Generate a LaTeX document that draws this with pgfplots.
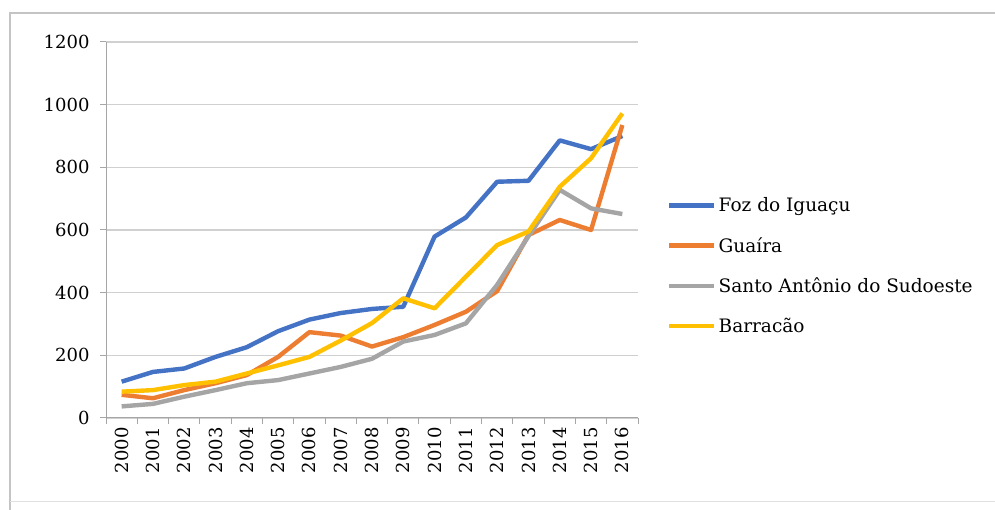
\documentclass[border=0pt]{standalone}
\usepackage{fontspec}
\setmainfont{DejaVu Serif}
\usepackage{pgfplots}
\pgfplotsset{compat=1.18}

\definecolor{cBlue}{HTML}{4472C4}
\definecolor{cOrange}{HTML}{ED7D31}
\definecolor{cGray}{HTML}{A5A5A5}
\definecolor{cYellow}{HTML}{FFC000}
\definecolor{cGrid}{HTML}{D0D0D0}
\definecolor{cFrame}{HTML}{C4C4C4}

\begin{document}
\begin{tikzpicture}
\useasboundingbox (0pt,0pt) rectangle (995pt,510pt);
\fill[white] (0pt,0pt) rectangle (995pt,510pt);
% chart frame
\draw[cFrame, line width=2pt] (10pt,0pt) -- (10pt,497pt) -- (995pt,497pt);
\draw[cFrame!50, line width=1pt] (10pt,8pt) -- (995pt,8pt);

\begin{axis}[
  at={(106pt,92pt)}, anchor=south west,
  width=532pt, height=376pt, scale only axis,
  xmin=-0.5, xmax=16.5, ymin=0, ymax=1200,
  axis x line=bottom, axis y line=left,
  axis line style={-, draw=cGrid!80!black, line width=1pt},
  ytick={0,200,...,1200},
  ymajorgrids, grid style={cGrid, line width=1.3pt},
  xtick={0,...,16},
  xticklabels={2000,2001,2002,2003,2004,2005,2006,2007,2008,2009,2010,2011,2012,2013,2014,2015,2016},
  minor xtick={-0.5,0.5,...,16.5},
  major x tick style={draw=none},
  minor x tick style={draw=cGrid!80!black, line width=1pt},
  y tick style={draw=cGrid!80!black, line width=1pt},
  tick align=outside,
  major tick length=6pt, minor tick length=6pt,
  /pgf/number format/assume math mode=true,
  /pgf/number format/1000 sep={},
  ticklabel style={font=\fontsize{18}{20}\selectfont, text=black},
  yticklabel style={xshift=-7pt},
  xticklabel style={rotate=90, anchor=east, yshift=0pt},
  legend style={draw=none, fill=none, at={(1.055,0.405)}, anchor=west,
    font=\fontsize{18.5}{22}\selectfont, text=black,
    row sep=20pt, inner sep=0pt, outer sep=0pt},
  legend cell align=left,
  legend image code/.code={\draw[#1, line cap=butt] (0pt,0pt) -- (45pt,0pt);},
  every axis plot/.append style={line width=4.4pt, line join=round},
]
\addplot[cBlue] coordinates {
  (0,116) (1,147) (2,158) (3,195) (4,226) (5,277) (6,314) (7,335) (8,348)
  (9,355) (10,579) (11,640) (12,754) (13,757) (14,886) (15,858) (16,900)};
\addlegendentry{Foz do Iguaçu}
\addplot[cOrange] coordinates {
  (0,74) (1,63) (2,89) (3,111) (4,137) (5,195) (6,274) (7,263) (8,228)
  (9,258) (10,297) (11,339) (12,405) (13,584) (14,632) (15,600) (16,935)};
\addlegendentry{Guaíra}
\addplot[cGray] coordinates {
  (0,37) (1,45) (2,68) (3,89) (4,111) (5,121) (6,142) (7,163) (8,189)
  (9,244) (10,265) (11,302) (12,425) (13,580) (14,728) (15,669) (16,651)};
\addlegendentry{Santo Antônio do Sudoeste}
\addplot[cYellow] coordinates {
  (0,84) (1,89) (2,105) (3,116) (4,142) (5,168) (6,195) (7,247) (8,303)
  (9,382) (10,350) (11,451) (12,552) (13,595) (14,738) (15,829) (16,972)};
\addlegendentry{Barracão}
\end{axis}
\end{tikzpicture}
\end{document}
